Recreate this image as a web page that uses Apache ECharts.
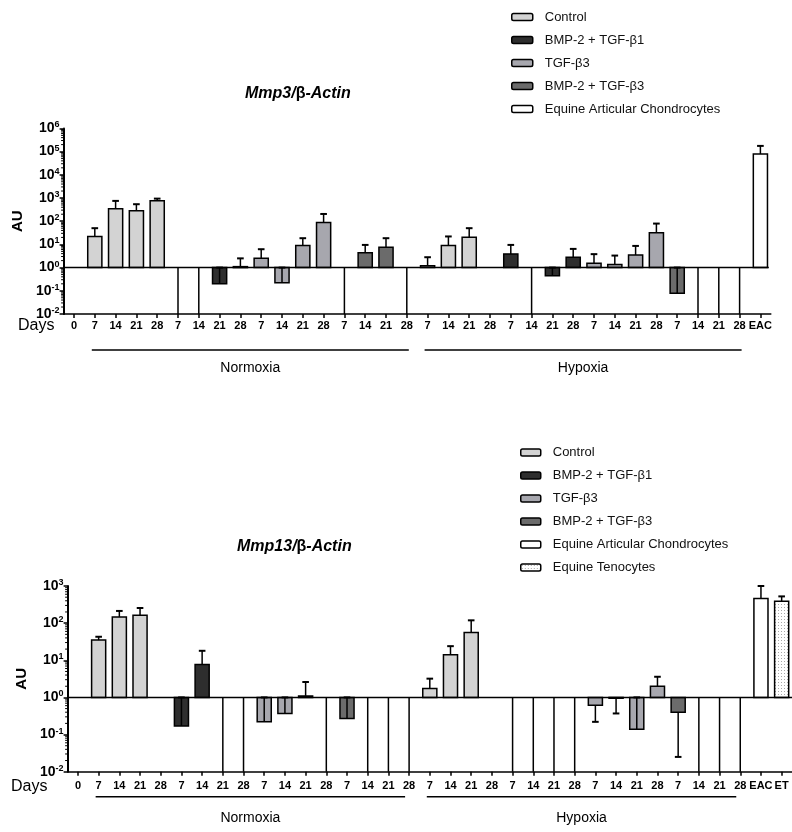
<!DOCTYPE html>
<html><head><meta charset="utf-8">
<script src="https://cdn.jsdelivr.net/npm/echarts@6/dist/echarts.min.js"></script>
<style>html,body{margin:0;padding:0;background:#fff}#c{width:792px;height:832px}</style>
</head><body><div id="c"></div><script>
const FONT = '"Liberation Sans", Arial, Helvetica, sans-serif';

// ---------- categories ----------
const groupNames = ['Control', 'BMP-2 + TGF-β1', 'TGF-β3', 'BMP-2 + TGF-β3'];
const cellNames = ['Equine Articular Chondrocytes', 'Equine Tenocytes'];
const days = ['7', '14', '21', '28'];
const conditions = ['Normoxia', 'Hypoxia'];
const blockDays = [].concat(days, days, days, days);
const mmp3Cats = [].concat(['0'], blockDays, blockDays, ['EAC']);
const mmp13Cats = [].concat(['0'], blockDays, blockDays, ['EAC', 'ET']);

// ---------- Mmp3 / β-Actin (null = no data, 0 = zero) ----------
const mmp3CtrlN = [22, 340, 280, 770],   mmp3CtrlNErr = [50, 750, 540, 940];
const mmp3B1N   = [0, 0, 0.2, 1.1],      mmp3B1NErr   = [null, null, 1, 2.5];
const mmp3T3N   = [2.5, 0.22, 8.9, 87],  mmp3T3NErr   = [6.2, 1, 18.5, 205];
const mmp3B3N   = [0, 4.4, 7.6, 0],      mmp3B3NErr   = [null, 9.5, 18.5, null];
const mmp3CtrlH = [1.2, 8.9, 20.5, null], mmp3CtrlHErr = [2.8, 22, 50, null];
const mmp3B1H   = [3.9, 0, 0.44, 2.8],   mmp3B1HErr   = [9.5, null, 1, 6.4];
const mmp3T3H   = [1.55, 1.35, 3.5, 32], mmp3T3HErr   = [3.8, 3.3, 8.6, 79];
const mmp3B3H   = [0.079, 0, 0, 0],      mmp3B3HErr   = [1, null, null, null];
const mmp3EAC = [79000], mmp3EACErr = [176000];

// ---------- Mmp13 / β-Actin ----------
const mmp13CtrlN = [35, 147, 164, null],  mmp13CtrlNErr = [43, 213, 256, null];
const mmp13B1N   = [0.17, 7.7, 0, 0],     mmp13B1NErr   = [1, 18, null, null];
const mmp13T3N   = [0.22, 0.37, 1.1, 0],  mmp13T3NErr   = [1, 1, 2.6, null];
const mmp13B3N   = [0.27, 0, 0, 0],       mmp13B3NErr   = [1, null, null, null];
const mmp13CtrlH = [1.75, 14, 56, null],  mmp13CtrlHErr = [3.2, 24, 119, null];
const mmp13B1H   = [0, 0, 0, 0],          mmp13B1HErr   = [null, null, null, null];
const mmp13T3H   = [0.62, 0.95, 0.14, 2.0], mmp13T3HErr = [0.22, 0.37, 1, 3.6];
const mmp13B3H   = [0.40, 0, 0, 0],       mmp13B3HErr   = [0.025, null, null, null];
const mmp13EAC = [460], mmp13EACErr = [1000];
const mmp13ET = [390], mmp13ETErr = [525];

// ---------- styles ----------
const pat = document.createElement('canvas'); pat.width = 3; pat.height = 3;
(function(){ const c = pat.getContext('2d'); c.fillStyle = '#fff'; c.fillRect(0,0,3,3); c.fillStyle = '#a8a8a8'; c.fillRect(1,1,1,1); })();
const fills = ['#d3d3d3', '#2e2e2e', '#a7a7ae', '#6b6b6b', '#ffffff', {image: pat, repeat: 'repeat'}];

function groupData(nV, nE, hV, hE, g) {
  const out = [];
  [[nV, nE, 1], [hV, hE, 17]].forEach(function (b) {
    b[0].forEach(function (v, d) { if (v !== null) out.push([b[2] + g * 4 + d, v, b[1][d]]); });
  });
  return out;
}
function singleData(vals, errs, idx) { return [[idx, vals[0], errs[0]]]; }

function makeBar(fill) {
  return function (params, api) {
    const x = api.value(0), v = api.value(1), e = api.value(2);
    const base = api.coord([x, 1]);
    const band = api.size([1, 0], [x, 1])[0];
    const cx = base[0];
    const cs = params.coordSys;
    const st = {stroke: '#000', lineWidth: 1.5};
    if (v === 0) return {type: 'line', shape: {x1: cx, y1: base[1], x2: cx, y2: cs.y + cs.height}, style: st};
    const w = band * 0.68;
    const top = api.coord([x, v])[1];
    const ch = [{type: 'rect', shape: {x: cx - w / 2, y: Math.min(top, base[1]), width: w, height: Math.abs(top - base[1])},
      style: {fill: fill, stroke: '#000', lineWidth: 1.5}}];
    if (e > 0) {
      const ey = api.coord([x, e])[1];
      const cw = band * 0.32;
      ch.push({type: 'line', shape: {x1: cx, y1: top, x2: cx, y2: ey}, style: st});
      ch.push({type: 'line', shape: {x1: cx - cw / 2, y1: ey, x2: cx + cw / 2, y2: ey}, style: {stroke: '#000', lineWidth: 2}});
    }
    return {type: 'group', children: ch};
  };
}

function makeDeco(cfg) {
  return function (params, api) {
    const cs = params.coordSys;
    const yb = api.coord([0, 1])[1];
    const bottom = cs.y + cs.height;
    const ch = [];
    ch.push({type: 'line', shape: {x1: cs.x, y1: yb, x2: cs.x + cs.width - cfg.trim, y2: yb}, style: {stroke: '#000', lineWidth: 1.5}});
    for (let n = cfg.minExp; n < cfg.maxExp; n++) {
      for (let k = 2; k <= 9; k++) {
        const y = api.coord([0, k * Math.pow(10, n)])[1];
        ch.push({type: 'line', shape: {x1: cs.x - 2.5, y1: y, x2: cs.x, y2: y}, style: {stroke: '#000', lineWidth: 1}});
      }
    }
    ch.push({type: 'text', style: {text: 'Days', x: cfg.daysX, y: bottom + cfg.daysDy, fontSize: 16, fontFamily: FONT, fill: '#000', align: 'left', verticalAlign: 'middle'}});
    conditions.forEach(function (name, i) {
      const from = 1 + i * 16, to = 16 + i * 16;
      const x1 = api.coord([from, 1])[0] + cfg.l0, x2 = api.coord([to, 1])[0] + cfg.l1;
      ch.push({type: 'line', shape: {x1: x1, y1: bottom + cfg.lineDy, x2: x2, y2: bottom + cfg.lineDy}, style: {stroke: '#000', lineWidth: 1.5}});
      ch.push({type: 'text', style: {text: name, x: (x1 + x2) / 2, y: bottom + cfg.textDy, fontSize: 14, fontFamily: FONT, fill: '#000', align: 'center', verticalAlign: 'middle'}});
    });
    return {type: 'group', children: ch};
  };
}

function yAxisCfg(grid, min, max) {
  return {
    type: 'log', logBase: 10, gridIndex: grid, min: min, max: max, interval: 1,
    name: 'AU', nameLocation: 'middle', nameGap: 38, nameRotate: 90,
    nameTextStyle: {fontFamily: FONT, fontSize: 15, fontWeight: 'bold', color: '#000'},
    axisLine: {show: true, lineStyle: {color: '#000', width: 2}},
    axisTick: {show: true, length: 4, lineStyle: {color: '#000', width: 1.5}},
    splitLine: {show: false}, minorTick: {show: false},
    axisLabel: {
      margin: 4, color: '#000',
      formatter: function (val) { const e = Math.round(Math.log10(val)); return '{b|10}{s|' + e + '}'; },
      rich: {
        b: {fontFamily: FONT, fontSize: 14, fontWeight: 'bold', color: '#000', lineHeight: 16},
        s: {fontFamily: FONT, fontSize: 9, fontWeight: 'bold', color: '#000', lineHeight: 10, verticalAlign: 'top'}
      }
    }
  };
}
function xAxisCfg(grid, cats, margin) {
  return {
    type: 'category', gridIndex: grid, data: cats, boundaryGap: true, position: 'bottom',
    axisLine: {show: true, onZero: false, lineStyle: {color: '#000', width: 1.5}},
    axisTick: {show: true, alignWithLabel: true, interval: 0, length: 4, lineStyle: {color: '#000', width: 1.5}},
    axisLabel: {interval: 0, fontFamily: FONT, fontSize: 11, fontWeight: 'bold', color: '#000', margin: margin},
    splitLine: {show: false}
  };
}

const series = [];
const topGroups = [[mmp3CtrlN, mmp3CtrlNErr, mmp3CtrlH, mmp3CtrlHErr], [mmp3B1N, mmp3B1NErr, mmp3B1H, mmp3B1HErr],
  [mmp3T3N, mmp3T3NErr, mmp3T3H, mmp3T3HErr], [mmp3B3N, mmp3B3NErr, mmp3B3H, mmp3B3HErr]];
const botGroups = [[mmp13CtrlN, mmp13CtrlNErr, mmp13CtrlH, mmp13CtrlHErr], [mmp13B1N, mmp13B1NErr, mmp13B1H, mmp13B1HErr],
  [mmp13T3N, mmp13T3NErr, mmp13T3H, mmp13T3HErr], [mmp13B3N, mmp13B3NErr, mmp13B3H, mmp13B3HErr]];

function addSeries(name, fill, data, gi) {
  series.push({type: 'custom', name: name, xAxisIndex: gi, yAxisIndex: gi, data: data,
    encode: {x: 0, y: 1}, renderItem: makeBar(fill),
    itemStyle: {color: fill, borderColor: '#000', borderWidth: 1.5}, silent: true});
}
topGroups.forEach(function (g, i) { addSeries(groupNames[i], fills[i], groupData(g[0], g[1], g[2], g[3], i), 0); });
addSeries(cellNames[0], fills[4], singleData(mmp3EAC, mmp3EACErr, 33), 0);
botGroups.forEach(function (g, i) { addSeries(groupNames[i], fills[i], groupData(g[0], g[1], g[2], g[3], i), 1); });
addSeries(cellNames[0], fills[4], singleData(mmp13EAC, mmp13EACErr, 33), 1);
addSeries(cellNames[1], fills[5], singleData(mmp13ET, mmp13ETErr, 34), 1);

series.push({type: 'custom', xAxisIndex: 0, yAxisIndex: 0, data: [[0, 1]], encode: {x: 0, y: 1}, silent: true, z: 5,
  renderItem: makeDeco({minExp: -2, maxExp: 6, trim: 2, daysX: 18, daysDy: 12, lineDy: 36, textDy: 54, l0: -3, l1: 2})});
series.push({type: 'custom', xAxisIndex: 1, yAxisIndex: 1, data: [[0, 1]], encode: {x: 0, y: 1}, silent: true, z: 5,
  renderItem: makeDeco({minExp: -2, maxExp: 3, trim: 0, daysX: 11, daysDy: 15, lineDy: 25, textDy: 46, l0: -3, l1: -4})});

function legendData(n) {
  const names = groupNames.concat(cellNames).slice(0, n);
  return names.map(function (nm, i) { return {name: nm, icon: 'roundRect', itemStyle: {color: fills[i], borderColor: '#000', borderWidth: 1.5}}; });
}
const legendText = {fontFamily: FONT, fontSize: 13, color: '#111', lineHeight: 15, padding: [0, 0, 0, 7]};

const chart = echarts.init(document.getElementById('c'), null, {renderer: 'canvas'});
chart.setOption({
  animation: false,
  backgroundColor: '#fff',
  title: [
    {text: '{i|Mmp3/}{b|β}{i|-Actin}', left: 245, top: 86, padding: 0,
      textStyle: {rich: {i: {fontFamily: FONT, fontSize: 16, fontWeight: 'bold', fontStyle: 'italic', color: '#000'}, b: {fontFamily: FONT, fontSize: 16, color: '#000'}}}},
    {text: '{i|Mmp13/}{b|β}{i|-Actin}', left: 237, top: 539, padding: 0,
      textStyle: {rich: {i: {fontFamily: FONT, fontSize: 16, fontWeight: 'bold', fontStyle: 'italic', color: '#000'}, b: {fontFamily: FONT, fontSize: 16, color: '#000'}}}}
  ],
  legend: [
    {orient: 'vertical', left: 511, top: 9.5, itemWidth: 21, itemHeight: 7, itemGap: 8, selectedMode: false, padding: 0,
      textStyle: legendText, data: legendData(5)},
    {orient: 'vertical', left: 520, top: 445, itemWidth: 20, itemHeight: 7, itemGap: 8, selectedMode: false, padding: 0,
      textStyle: legendText, data: legendData(6)}
  ],
  grid: [
    {left: 63.6, top: 128.4, width: 707.2, height: 185.6},
    {left: 67.6, top: 586, width: 726.6, height: 185.7}
  ],
  xAxis: [xAxisCfg(0, mmp3Cats, 6), xAxisCfg(1, mmp13Cats, 8.5)],
  yAxis: [yAxisCfg(0, 0.01, 1e6), yAxisCfg(1, 0.01, 1000)],
  series: series
});
</script></body></html>
